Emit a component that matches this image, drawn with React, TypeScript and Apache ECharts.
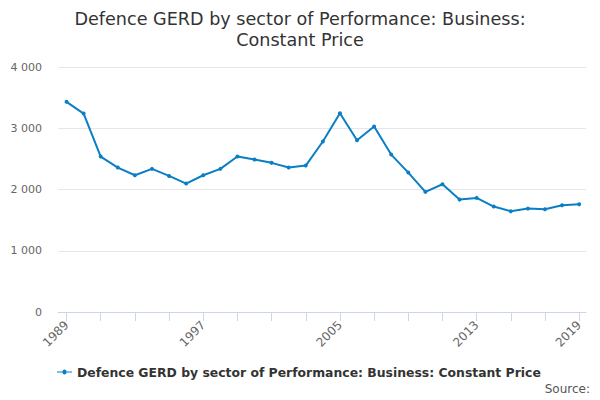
import React, { useEffect, useRef } from "react";
import * as echarts from "echarts";

const years = [1989, 1990, 1991, 1992, 1993, 1994, 1995, 1996, 1997, 1998, 1999, 2000, 2001, 2002, 2003, 2004, 2005, 2006, 2007, 2008, 2009, 2010, 2011, 2012, 2013, 2014, 2015, 2016, 2017, 2018, 2019];
const values = [3431, 3240, 2538, 2358, 2233, 2337, 2222, 2097, 2233, 2337, 2538, 2489, 2435, 2358, 2391, 2783, 3246, 2805, 3028, 2570, 2276, 1961, 2086, 1835, 1863, 1721, 1645, 1688, 1678, 1743, 1760];
const tickYears = [1989, 1991, 1993, 1995, 1997, 1999, 2001, 2003, 2005, 2007, 2009, 2011, 2013, 2015, 2017, 2019];
const labelYears = [1989, 1997, 2005, 2013, 2019];
const seriesName = "Defence GERD by sector of Performance: Business: Constant Price";
const titleText = "Defence GERD by sector of Performance: Business:\nConstant Price";

const FONT = "DejaVu Sans";

export default function App() {
  const ref = useRef<HTMLDivElement>(null);
  useEffect(() => {
    if (!ref.current) return;
    const chart = echarts.init(ref.current, undefined, { renderer: "svg" });
    chart.setOption({
      animation: false,
      textStyle: { fontFamily: FONT },
      title: {
        text: titleText,
        left: "center",
        top: 8,
        padding: 0,
        textStyle: { fontFamily: FONT, fontSize: 17.6, fontWeight: "normal", color: "#333", lineHeight: 21 },
      },
      legend: {
        top: 366,
        left: 57,
        padding: 0,
        itemWidth: 15,
        itemHeight: 8,
        textStyle: { fontFamily: FONT, fontSize: 12.4, fontWeight: "bold", color: "#333" },
        data: [{ name: seriesName, icon: "path://M0,3.5 L5.5,3.5 A2,2 0 1 1 9.5,3.5 L15,3.5 L15,4.5 L9.5,4.5 A2,2 0 1 1 5.5,4.5 L0,4.5 Z" }],
      },
      graphic: [
        {
          type: "text",
          right: 10,
          top: 383,
          style: { text: "Source:", fontFamily: FONT, fontSize: 12, fill: "#555" },
        },
      ],
      grid: { left: 58, right: 14, top: 67, bottom: 88 },
      xAxis: {
        type: "value",
        min: 1988.5,
        max: 2019.4,
        splitLine: { show: false },
        axisLine: { show: true, lineStyle: { color: "#ccd6eb" } },
        axisTick: { show: true, length: 9, customValues: tickYears, lineStyle: { color: "#ccd6eb" } },
        axisLabel: {
          customValues: labelYears,
          rotate: 45,
          fontFamily: FONT,
          fontSize: 12,
          color: "#666",
          margin: 11,
          formatter: (v: number) => String(v),
        },
      },
      yAxis: {
        type: "value",
        min: 0,
        max: 4000,
        interval: 1000,
        axisLine: { show: false },
        axisTick: { show: false },
        splitLine: { lineStyle: { color: "#e6e6e6" } },
        axisLabel: {
          fontFamily: FONT,
          fontSize: 11,
          color: "#666",
          margin: 16,
          formatter: (v: number) => (v >= 1000 ? `${Math.floor(v / 1000)} ${String(v % 1000).padStart(3, "0")}` : String(v)),
        },
      },
      series: [
        {
          name: seriesName,
          type: "line",
          data: years.map((y, i) => [y, values[i]]),
          color: "#0a7fc4",
          lineStyle: { width: 2, color: "#0a7fc4" },
          symbol: "circle",
          symbolSize: 4,
          itemStyle: { color: "#0a7fc4" },
        },
      ],
    });
    return () => chart.dispose();
  }, []);
  return <div ref={ref} style={{ position: "absolute", left: 0, top: 0, width: 600, height: 400 }} />;
}
